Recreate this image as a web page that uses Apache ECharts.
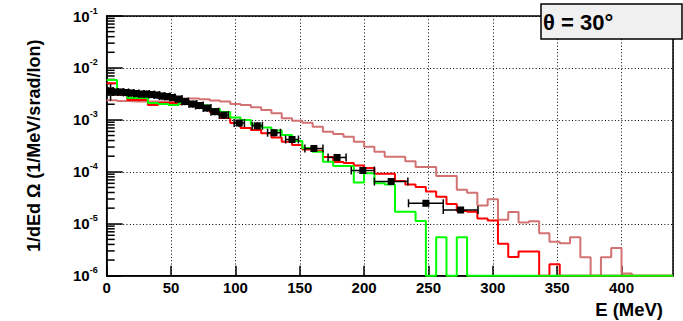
<!DOCTYPE html>
<html>
<head>
<meta charset="utf-8">
<script src="https://cdn.jsdelivr.net/npm/echarts@6/dist/echarts.min.js"></script>
<style>
  html, body { margin: 0; padding: 0; background: #fff; }
  #chart { width: 683px; height: 321px; }
</style>
</head>
<body>
<div id="chart"></div>
<script>
// Energy spectra at theta = 30 deg: three calculated histograms (8 MeV bins) and measured points.
const BIN_WIDTH = 8;      // MeV
const E_MIN = 0;
const E_MAX = 440;
const Y_MIN = 1e-6;
const Y_MAX = 1e-1;

// Histogram contents per 8 MeV bin, starting at 0 MeV (0 = empty bin)
const calcBrown = [
  2.4e-3, 2.3e-3, 2.26e-3, 2.26e-3, 2.26e-3, 2.26e-3, 2.26e-3, 2.58e-3, 2.58e-3, 2.5e-3,
  2.35e-3, 2.26e-3, 2.02e-3, 1.93e-3, 1.75e-3, 1.55e-3, 1.34e-3, 1.07e-3, 9.6e-4, 8.8e-4,
  7.4e-4, 5.9e-4, 5.35e-4, 4.75e-4, 3.8e-4, 3.05e-4, 2.44e-4, 1.95e-4, 1.95e-4, 1.6e-4,
  1.24e-4, 1.24e-4, 8.3e-5, 8.3e-5, 4.5e-5, 3.96e-5, 2.25e-5, 2.96e-5, 1.2e-5, 1.68e-5,
  1.06e-5, 1.12e-5, 6.6e-6, 4.5e-6, 4.2e-6, 5.5e-6, 2.26e-6, 0, 2.26e-6, 3.4e-6,
  1.1e-6, 0, 0, 0, 0
];
const calcRed = [
  5.1e-3, 3.05e-3, 2.41e-3, 2.41e-3, 1.93e-3, 2.11e-3, 2.11e-3, 2.02e-3, 1.93e-3, 1.69e-3,
  1.42e-3, 1.09e-3, 8.7e-4, 7.0e-4, 6.4e-4, 5.5e-4, 4.6e-4, 3.8e-4, 3.28e-4, 2.69e-4,
  2.55e-4, 1.93e-4, 1.55e-4, 1.48e-4, 1.33e-4, 1.18e-4, 9.2e-5, 9.2e-5, 6.65e-5, 5.7e-5,
  5.1e-5, 4.2e-5, 3.32e-5, 2.4e-5, 1.77e-5, 1.71e-5, 1.26e-5, 1.16e-5, 4.1e-6, 2.29e-6,
  2.92e-6, 2.92e-6, 0, 1.66e-6, 0, 0, 0, 0, 0, 0,
  0, 0, 0, 0, 0
];
const calcGreen = [
  5.86e-3, 3.76e-3, 2.64e-3, 2.64e-3, 2.11e-3, 2.02e-3, 1.93e-3, 2.11e-3, 1.93e-3, 1.89e-3,
  1.62e-3, 1.42e-3, 1.11e-3, 9.95e-4, 8.15e-4, 7.13e-4, 6.25e-4, 5.12e-4, 3.92e-4, 2.84e-4,
  2.44e-4, 1.57e-4, 1.29e-4, 1.29e-4, 6.23e-5, 9.37e-5, 6.01e-5, 5.7e-5, 1.71e-5, 1.71e-5,
  1.13e-5, 0, 5.48e-6, 0, 5.48e-6, 0, 0, 0, 0, 0,
  0, 0, 0, 0, 0, 0, 0, 0, 0, 0,
  0, 0, 0, 0, 0
];

// Measured points: energy (MeV), value, energy half-width (MeV), relative error
const expEnergy = [3, 7, 11, 15, 19, 23, 27, 31, 35, 39, 43, 47, 51, 56, 61, 67, 72, 78, 84, 91,
  103, 117, 130, 144, 161, 179, 199, 221, 248, 275];
const expValue = [3.6e-3, 3.44e-3, 3.44e-3, 3.37e-3, 3.29e-3, 3.22e-3, 3.15e-3, 3.15e-3, 3.08e-3, 3.01e-3,
  2.88e-3, 2.82e-3, 2.7e-3, 2.52e-3, 2.26e-3, 2.02e-3, 1.89e-3, 1.69e-3, 1.44e-3, 1.24e-3,
  8.7e-4, 7.7e-4, 5.66e-4, 4.19e-4, 2.81e-4, 1.89e-4, 1.06e-4, 6.5e-5, 2.48e-5, 1.84e-5];
const expErrE = [2, 2, 2, 2, 2, 2, 2, 2, 2, 2, 2, 2, 2, 2.5, 2.5, 3, 3, 3, 3, 3.5,
  4, 4, 5, 5, 7, 7, 9, 13, 13.5, 13.5];
const expErrRel = [0.35, 0.15, 0.15, 0.15, 0.15, 0.15, 0.15, 0.15, 0.15, 0.15,
  0.15, 0.15, 0.15, 0.15, 0.15, 0.15, 0.15, 0.15, 0.15, 0.15,
  0.15, 0.15, 0.15, 0.15, 0.12, 0.12, 0.1, 0.1, 0.1, 0.1];

const FONT = '"Liberation Sans", Arial, Helvetica, sans-serif';

// Step outline of a histogram; empty bins sit on the axis floor
function histSteps(contents) {
  const pts = contents.map((v, k) => [E_MIN + k * BIN_WIDTH, Math.max(v, Y_MIN)]);
  const last = contents[contents.length - 1];
  pts.push([E_MIN + contents.length * BIN_WIDTH, Math.max(last, Y_MIN)]);
  return pts;
}

// Minor log ticks at 2..9 x 10^n
const minorTicks = [];
for (let n = -6; n <= -2; n++) {
  for (let k = 2; k <= 9; k++) minorTicks.push([E_MIN, k * Math.pow(10, n)]);
}

function histSeries(name, contents, color) {
  return {
    name: name,
    type: 'line',
    step: 'end',
    data: histSteps(contents),
    showSymbol: false,
    clip: false,
    lineStyle: { color: color, width: 2 },
    itemStyle: { color: color },
    animation: false,
    z: 3
  };
}

const chart = echarts.init(document.getElementById('chart'), null, { renderer: 'svg' });

chart.setOption({
  backgroundColor: '#ffffff',
  animation: false,
  grid: {
    left: 106.7, right: 10, top: 16, bottom: 45.3,
    show: true, borderColor: '#000', borderWidth: 1.5, backgroundColor: 'transparent'
  },
  xAxis: {
    type: 'value',
    min: E_MIN, max: E_MAX, interval: 50,
    name: 'E (MeV)',
    nameLocation: 'end',
    nameGap: -10,
    nameTextStyle: {
      fontFamily: FONT, fontWeight: 'bold', fontSize: 18.5, color: '#000',
      align: 'right', verticalAlign: 'top', padding: [24, 0, 0, 0]
    },
    axisLine: { lineStyle: { color: '#000', width: 1.5 } },
    axisTick: { inside: true, length: 10, lineStyle: { color: '#000', width: 1.5 } },
    axisLabel: {
      margin: 4, fontFamily: FONT, fontWeight: 'bold', fontSize: 15, color: '#000',
      showMaxLabel: false
    },
    splitLine: { show: true, lineStyle: { color: '#000', width: 1, type: [1, 2.3] } }
  },
  yAxis: {
    type: 'log', logBase: 10,
    min: Y_MIN, max: Y_MAX,
    name: '1/dEd \u03A9 (1/MeV/srad/Ion)',
    nameLocation: 'middle',
    nameRotate: 90,
    nameGap: 64,
    nameTextStyle: { fontFamily: FONT, fontWeight: 'bold', fontSize: 18, color: '#000' },
    axisLine: { show: true, lineStyle: { color: '#000', width: 1.5 } },
    axisTick: { show: true, inside: true, length: 16, lineStyle: { color: '#000', width: 1.5 } },
    axisLabel: {
      margin: 9,
      formatter: function (v) {
        return '{b|10}{s|' + Math.round(Math.log10(v)) + '}';
      },
      rich: {
        b: { fontFamily: FONT, fontWeight: 'bold', fontSize: 15, color: '#000', lineHeight: 20 },
        s: { fontFamily: FONT, fontWeight: 'bold', fontSize: 9, color: '#000', lineHeight: 10, verticalAlign: 'top' }
      }
    },
    splitLine: { show: true, lineStyle: { color: '#000', width: 1, type: [1, 2.3] } }
  },
  graphic: [
    {
      type: 'rect',
      shape: { x: 541, y: 4, width: 141, height: 35 },
      style: { fill: '#f0f0f0', stroke: '#000', lineWidth: 1.5 },
      z: 10
    },
    {
      type: 'text',
      x: 543, y: 22,
      style: {
        text: '\u03B8 = 30\u00B0',
        fontFamily: FONT, fontWeight: 'bold', fontSize: 22, fill: '#000',
        verticalAlign: 'middle', align: 'left'
      },
      z: 11
    }
  ],
  series: [
    {
      name: 'minor ticks',
      type: 'custom',
      data: minorTicks,
      encode: { x: 0, y: 1 },
      silent: true,
      clip: false,
      z: 2,
      renderItem: function (params, api) {
        const p = api.coord([api.value(0), api.value(1)]);
        return {
          type: 'line',
          shape: { x1: p[0], y1: p[1], x2: p[0] + 8, y2: p[1] },
          style: { stroke: '#000', lineWidth: 1.5 }
        };
      }
    },
    histSeries('calc A', calcBrown, '#d27272'),
    histSeries('calc B', calcRed, '#ff0000'),
    histSeries('calc C', calcGreen, '#00ff00'),
    {
      name: 'measured',
      type: 'custom',
      data: expEnergy.map((e, i) => [e, expValue[i], expErrE[i], expErrRel[i]]),
      encode: { x: 0, y: 1 },
      clip: false,
      z: 5,
      renderItem: function (params, api) {
        const e = api.value(0), v = api.value(1), ex = api.value(2), er = api.value(3);
        const c = api.coord([e, v]);
        const l = api.coord([e - ex, v]);
        const r = api.coord([e + ex, v]);
        const t = api.coord([e, v * (1 + er)]);
        const b = api.coord([e, v * (1 - er)]);
        const st = { stroke: '#000', lineWidth: 1.5 };
        const cap = 4;
        return {
          type: 'group',
          children: [
            { type: 'line', shape: { x1: l[0], y1: c[1], x2: r[0], y2: c[1] }, style: st },
            { type: 'line', shape: { x1: l[0], y1: c[1] - cap, x2: l[0], y2: c[1] + cap }, style: st },
            { type: 'line', shape: { x1: r[0], y1: c[1] - cap, x2: r[0], y2: c[1] + cap }, style: st },
            { type: 'line', shape: { x1: c[0], y1: t[1], x2: c[0], y2: b[1] }, style: st },
            { type: 'rect', shape: { x: c[0] - 3.5, y: c[1] - 3.5, width: 7, height: 7 }, style: { fill: '#000' } }
          ]
        };
      }
    }
  ]
});
</script>
</body>
</html>
